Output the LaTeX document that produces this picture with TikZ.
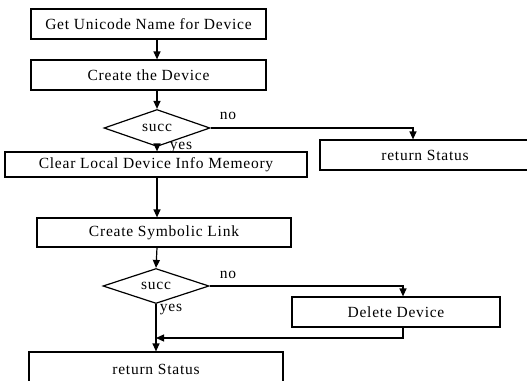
\documentclass[tikz,border=0pt]{standalone}
\usepackage{fontspec}
\setmainfont{Liberation Serif}[LetterSpace=5]
\usetikzlibrary{shapes.geometric,arrows.meta}

\begin{document}
\begin{tikzpicture}[x=1pt, y=-1pt, line width=1.2pt,
        >={Triangle[length=8pt,width=7pt]},
        font=\fontsize{15.5}{18}\selectfont,
        procbox/.style={draw, rectangle, inner sep=0pt},
        decide/.style={draw, diamond, inner sep=0pt, aspect=3}]
    \useasboundingbox (0, 0) rectangle (527, 380);

    % main column
    \node[procbox, minimum width=235pt, minimum height=30pt] (getname) at (148.5, 24) {Get Unicode Name for Device};
    \node[procbox, minimum width=235pt, minimum height=30pt] (create) at (148.5, 75) {Create the Device};
    \node[decide, minimum width=106pt, minimum height=37pt] (succA) at (157, 128) {succ};
    \node[procbox, minimum width=302pt, minimum height=25pt] (clearmem) at (156, 164.5) {Clear Local Device Info Memeory};
    \node[procbox, minimum width=254pt, minimum height=29pt] (symlink) at (164, 232.5) {Create Symbolic Link};
    \node[decide, minimum width=106pt, minimum height=35pt] (succB) at (156, 286) {succ};
    \node[procbox, minimum width=254pt, minimum height=34pt] (retB) at (156, 369) {return Status};

    % side branches
    \node[procbox, minimum width=210pt, minimum height=30pt] (retA) at (425, 155) {return Status};
    \node[procbox, minimum width=208pt, minimum height=30pt] (delete) at (396, 312) {Delete Device};

    \coordinate (trunk) at (157, 0);
    \coordinate (merge) at (156, 338);

    \draw[->] (getname.south -| trunk) -- (create.north -| trunk);
    \draw[->] (create.south -| trunk) -- (succA.north);
    \draw[->] (succA.south) -- (clearmem.north -| trunk);
    \draw[->] (clearmem.south -| trunk) -- (symlink.north -| trunk);
    \draw[->] (symlink.south -| trunk) -- (succB.north);
    \draw[->] (succB.south) -- (retB.north -| succB.south);

    \draw[->] (succA.east) -| ([xshift=-12pt]retA.north);
    \draw[->] (succB.east) -| ([xshift=7pt]delete.north);
    \draw[->] ([xshift=7pt]delete.south) |- (merge);

    \node (noA) at (228, 116) {no};
    \node (yesA) at (181, 147.5) {yes};
    \node (noB) at (228, 275) {no};
    \node (yesB) at (171, 310) {yes};
\end{tikzpicture}
\end{document}
